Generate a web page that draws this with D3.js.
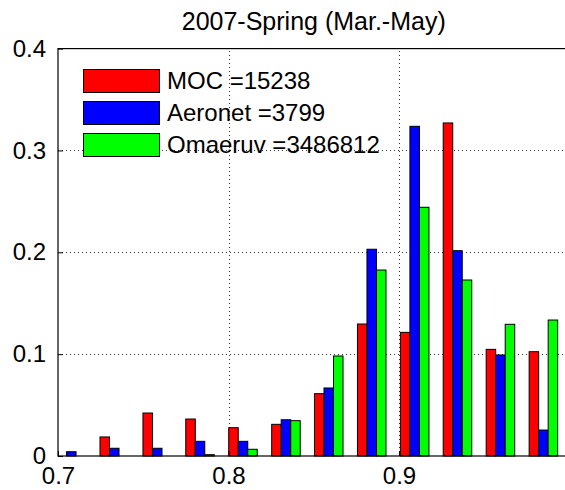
<!DOCTYPE html>
<html>
<head>
<meta charset="utf-8">
<script src="https://cdn.jsdelivr.net/npm/d3@7"></script>
<style>
  html, body { margin: 0; padding: 0; background: #fff; }
  svg { display: block; }
  text { font-family: "Liberation Sans", Arial, sans-serif; fill: #000; }
</style>
</head>
<body>
<svg id="chart" width="565" height="490"></svg>
<script>
// Histogram bin centres (fraction of observations per bin)
const binCenters = [0.7078, 0.7330, 0.7582, 0.7833, 0.8085, 0.8337,
                    0.8588, 0.8840, 0.9092, 0.9343, 0.9595, 0.9847];
const mocValues      = [0, 0.0187, 0.0422, 0.0363, 0.0278, 0.0311,
                        0.0612, 0.1296, 0.1214, 0.3270, 0.1047, 0.1024];
const aeronetValues  = [0.0042, 0.0076, 0.0076, 0.0144, 0.0144, 0.0356,
                        0.0668, 0.2030, 0.3237, 0.2016, 0.0992, 0.0255];
const omaeruvValues  = [0, 0, 0, 0.0013, 0.0066, 0.0347,
                        0.0982, 0.1826, 0.2442, 0.1728, 0.1293, 0.1335];
const seriesNames  = ["MOC =15238", "Aeronet =3799", "Omaeruv =3486812"];
const seriesColors = ["#ff0000", "#0000ff", "#00ff00"];
const xTicks = [0.7, 0.8, 0.9];
const yTicks = [0, 0.1, 0.2, 0.3, 0.4];
const xGrid = [0.8, 0.9];
const yGrid = [0.1, 0.2, 0.3];
const titleText = "2007-Spring (Mar.-May)";

const svg = d3.select("#chart");
const plotLeft = 58, plotRight = 569.5, plotTop = 48.6, plotBottom = 456;

const x = d3.scaleLinear().domain([0.7, 1.0]).range([plotLeft, plotRight]);
const y = d3.scaleLinear().domain([0, 0.4]).range([plotBottom, plotTop]);

// dotted grid (behind bars)
const grid = svg.append("g").attr("stroke", "#333").attr("stroke-width", 1)
  .attr("stroke-dasharray", "1,3");
grid.selectAll("line.gx").data(xGrid).join("line").attr("class", "gx")
  .attr("x1", d => Math.round(x(d)) + 0.5).attr("x2", d => Math.round(x(d)) + 0.5)
  .attr("y1", plotBottom).attr("y2", plotTop);
grid.selectAll("line.gy").data(yGrid).join("line").attr("class", "gy")
  .attr("y1", d => Math.round(y(d)) + 0.5).attr("y2", d => Math.round(y(d)) + 0.5)
  .attr("x1", plotLeft).attr("x2", plotRight);

// grouped bars
const series = [mocValues, aeronetValues, omaeruvValues];
const step = x(binCenters[1]) - x(binCenters[0]);
const barW = step * 0.2214;
const bars = svg.append("g");
series.forEach((vals, si) => {
  bars.append("g").selectAll("rect")
    .data(vals.map((v, i) => ({ v, c: binCenters[i] })))
    .join("rect")
    .attr("x", d => x(d.c) + (si - 1.5) * barW)
    .attr("width", barW)
    .attr("y", d => y(d.v))
    .attr("height", d => y(0) - y(d.v))
    .attr("fill", seriesColors[si])
    .attr("stroke", "#000")
    .attr("stroke-width", 1);
});

// axes box
svg.append("rect").attr("x", plotLeft).attr("y", plotTop)
  .attr("width", plotRight - plotLeft).attr("height", plotBottom - plotTop)
  .attr("fill", "none").attr("stroke", "#000").attr("stroke-width", 1.2);

// axes with inward ticks
const xAxis = d3.axisBottom(x).tickValues(xTicks).tickFormat(d3.format(".1f"))
  .tickSizeInner(-5).tickSizeOuter(0).tickPadding(11);
const gx = svg.append("g").attr("transform", `translate(0,${plotBottom})`).call(xAxis);
gx.select(".domain").remove();
gx.selectAll("text").style("font-size", "24px")
  .style("font-family", '"Liberation Sans", Arial, sans-serif').attr("fill", "#000");
gx.selectAll("line").attr("stroke", "#000");

const yAxis = d3.axisLeft(y).tickValues(yTicks).tickFormat(d => d === 0 ? "0" : d3.format(".1f")(d))
  .tickSizeInner(-5).tickSizeOuter(0).tickPadding(12);
const gy = svg.append("g").attr("transform", `translate(${plotLeft},0)`).call(yAxis);
gy.select(".domain").remove();
gy.selectAll("text").style("font-size", "24px")
  .style("font-family", '"Liberation Sans", Arial, sans-serif').attr("fill", "#000");
gy.selectAll("line").attr("stroke", "#000");

// title
svg.append("text").attr("x", (plotLeft + plotRight) / 2).attr("y", 30)
  .attr("text-anchor", "middle").style("font-size", "25px").text(titleText);

// legend (no frame)
const lg = svg.append("g");
seriesNames.forEach((name, i) => {
  const yy = 69.5 + i * 32;
  lg.append("rect").attr("x", 83.5).attr("y", yy).attr("width", 76).attr("height", 23)
    .attr("fill", seriesColors[i]).attr("stroke", "#000").attr("stroke-width", 1);
  lg.append("text").attr("x", 167).attr("y", yy + 11.5).attr("dy", "0.35em")
    .style("font-size", "24px").text(name);
});
</script>
</body>
</html>
